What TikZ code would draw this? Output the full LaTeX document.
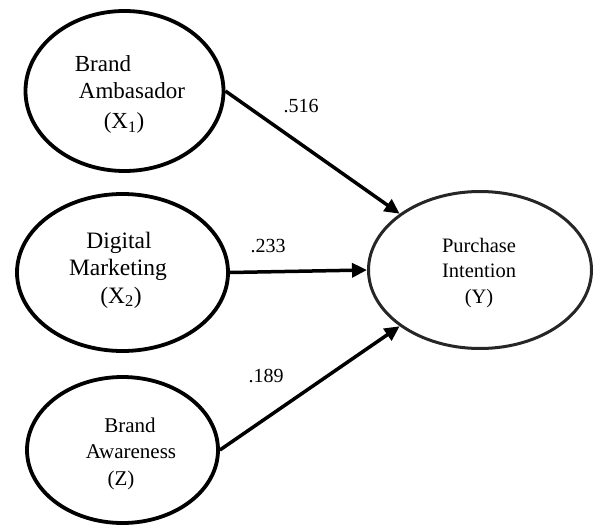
\documentclass[tikz,border=0pt]{standalone}
\usepackage{fontspec}
\setmainfont{Liberation Serif}
\usetikzlibrary{arrows.meta,shapes.geometric}
\begin{document}
\begin{tikzpicture}[x=1pt,y=-1pt,
  latent/.style={draw=black,line width=3.8pt,ellipse,inner sep=0pt},
  outcome/.style={draw=black!85,line width=3pt,ellipse,inner sep=0pt},
  txtA/.style={anchor=base,inner sep=0pt,font=\fontsize{23}{27}\selectfont},
  txtB/.style={anchor=base,inner sep=0pt,font=\fontsize{23.5}{27}\selectfont},
  txtC/.style={anchor=base,inner sep=0pt,font=\fontsize{21}{25}\selectfont},
  txtY/.style={anchor=base,inner sep=0pt,font=\fontsize{20.5}{25}\selectfont},
  coef/.style={anchor=base,inner sep=0pt,font=\fontsize{20}{24}\selectfont},
  path/.style={line width=3.5pt,-{Triangle[length=15pt,width=14pt]}}]
\useasboundingbox (0,0) rectangle (601,529);
\node[latent,minimum width=198pt,minimum height=160pt] (e1) at (124.5,91) {};
\node[latent,minimum width=211pt,minimum height=157pt] (e2) at (122.5,272.5) {};
\node[latent,minimum width=191pt,minimum height=146pt] (e3) at (122.5,450) {};
\node[outcome,minimum width=223pt,minimum height=157pt] (y) at (480,270) {};
\node[txtA] (t1a) at (103,72) {Brand};
\node[txtA] (t1b) at (132,99) {Ambasador};
\node[txtA] (t1c) at (124,129) {(X\textsubscript{1})};
\node[txtB] (t2a) at (119,248) {Digital};
\node[txtB] (t2b) at (118,275) {Marketing};
\node[txtB] (t2c) at (121,303) {(X\textsubscript{2})};
\node[txtC] (t3a) at (130,432) {Brand};
\node[txtC] (t3b) at (131,458) {Awareness};
\node[txtC] (t3c) at (121,485) {(Z)};
\node[txtY] (tya) at (479,252) {Purchase};
\node[txtY] (tyb) at (479,277) {Intention};
\node[txtY] (tyc) at (479,303) {(Y)};
\draw[path] (e1.east) -- (y.145);
\draw[path] (e2.east) -- (y.west);
\draw[path] (e3.east) -- (y.215);
\node[coef] (c1) at (301,113) {.516};
\node[coef] (c2) at (268,252) {.233};
\node[coef] (c3) at (266,382) {.189};
\end{tikzpicture}
\end{document}
